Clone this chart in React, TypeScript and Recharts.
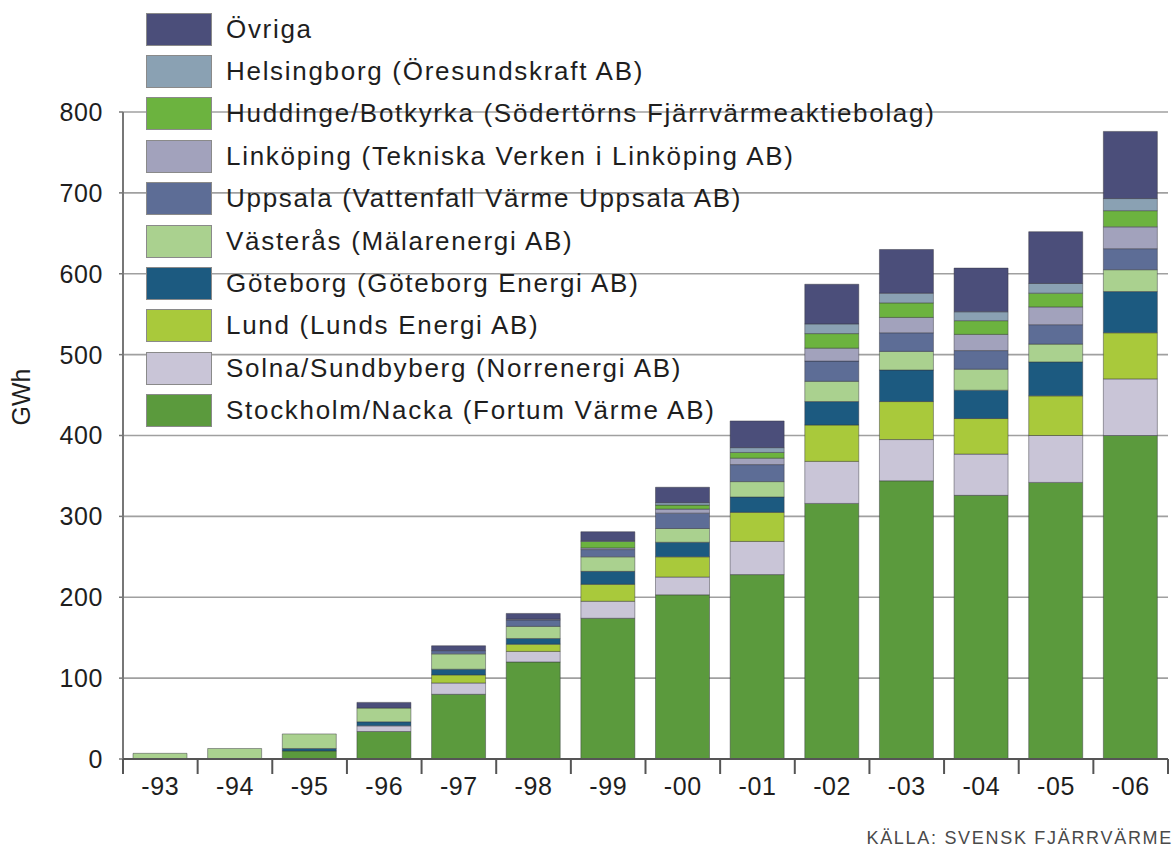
import React from 'react';
import { BarChart, Bar, XAxis, YAxis, CartesianGrid } from 'recharts';

const CHART_W = 1176;
const CHART_H = 848;
const PLOT_LEFT = 123;
const PLOT_RIGHT = 8;

const years = ['-93', '-94', '-95', '-96', '-97', '-98', '-99', '-00', '-01', '-02', '-03', '-04', '-05', '-06'];
const yTicks = [0, 100, 200, 300, 400, 500, 600, 700, 800];

// GWh per producer
const stockholm = [0, 0, 10, 34, 80, 120, 174, 203, 228, 316, 344, 326, 342, 400];
const solna = [0, 0, 0, 7, 14, 13, 21, 22, 41, 52, 51, 51, 58, 70];
const lund = [0, 0, 0, 0, 10, 9, 21, 25, 36, 45, 47, 44, 49, 57];
const goteborg = [0, 0, 3, 5, 7, 7, 16, 18, 19, 29, 39, 35, 42, 51];
const vasteras = [7, 13, 18, 17, 19, 15, 18, 17, 19, 25, 23, 26, 22, 27];
const uppsala = [0, 0, 0, 0, 4, 8, 9, 19, 21, 25, 23, 23, 24, 26];
const linkoping = [0, 0, 0, 0, 0, 1, 2, 5, 8, 16, 19, 20, 22, 27];
const huddinge = [0, 0, 0, 0, 0, 0, 8, 5, 7, 18, 18, 17, 17, 20];
const helsingborg = [0, 0, 0, 0, 0, 0, 1, 3, 6, 12, 12, 11, 12, 15];
const ovriga = [0, 0, 0, 7, 6, 7, 11, 19, 33, 49, 54, 54, 64, 83];

// bottom of the stack first
const series = [
    { key: 'stockholm', name: 'Stockholm/Nacka (Fortum Värme AB)', color: '#5b9a3d', values: stockholm },
    { key: 'solna', name: 'Solna/Sundbyberg (Norrenergi AB)', color: '#c9c5d7', values: solna },
    { key: 'lund', name: 'Lund (Lunds Energi AB)', color: '#a9c93b', values: lund },
    { key: 'goteborg', name: 'Göteborg (Göteborg Energi AB)', color: '#1c5a80', values: goteborg },
    { key: 'vasteras', name: 'Västerås (Mälarenergi AB)', color: '#aad18f', values: vasteras },
    { key: 'uppsala', name: 'Uppsala (Vattenfall Värme Uppsala AB)', color: '#5d6d96', values: uppsala },
    { key: 'linkoping', name: 'Linköping (Tekniska Verken i Linköping AB)', color: '#a2a2bc', values: linkoping },
    { key: 'huddinge', name: 'Huddinge/Botkyrka (Södertörns Fjärrvärmeaktiebolag)', color: '#6cb33f', values: huddinge },
    { key: 'helsingborg', name: 'Helsingborg (Öresundskraft AB)', color: '#8aa1b3', values: helsingborg },
    { key: 'ovriga', name: 'Övriga', color: '#4b4e7a', values: ovriga },
];

const data = years.map((year, i) => {
    const row: Record<string, string | number> = { year };
    series.forEach((s) => {
        row[s.key] = s.values[i];
    });
    return row;
});

const HALF_BAND = (CHART_W - PLOT_LEFT - PLOT_RIGHT) / years.length / 2;

const YearTick = (props: any) => {
    const { x, y, payload, index } = props;
    return (
        <g>
            <line x1={x - HALF_BAND} x2={x - HALF_BAND} y1={y} y2={y + 15} stroke="#555" strokeWidth={2} />
            {index === years.length - 1 && (
                <line x1={x + HALF_BAND} x2={x + HALF_BAND} y1={y} y2={y + 15} stroke="#555" strokeWidth={2} />
            )}
            <text x={x} y={y + 36} textAnchor="middle" fontSize={25} fill="#1e1e1e" letterSpacing={0.6}>
                {payload.value}
            </text>
        </g>
    );
};

const Legend: React.FC = () => (
    <div style={{ position: 'absolute', left: 146, top: 13 }}>
        {[...series].reverse().map((s) => (
            <div key={s.key} style={{ display: 'flex', alignItems: 'center', height: 42.4 }}>
                <div
                    style={{
                        width: 64,
                        height: 31,
                        background: s.color,
                        border: '1px solid #8a8a8a',
                        marginBottom: 10,
                    }}
                />
                <span
                    style={{
                        marginLeft: 14,
                        marginBottom: 10,
                        fontSize: 26,
                        letterSpacing: 1.7,
                        color: '#1e1e1e',
                        whiteSpace: 'nowrap',
                    }}
                >
                    {s.name}
                </span>
            </div>
        ))}
    </div>
);

export default function App() {
    return (
        <div
            style={{
                position: 'relative',
                width: CHART_W,
                height: CHART_H,
                background: '#fff',
                fontFamily: '"Liberation Sans", Arial, sans-serif',
            }}
        >
            <style>{'body{margin:0}'}</style>
            <BarChart
                width={CHART_W}
                height={CHART_H}
                data={data}
                margin={{ top: 112, right: PLOT_RIGHT, left: 0, bottom: 0 }}
                barSize={54}
            >
                <CartesianGrid horizontal vertical={false} stroke="#a0a0a0" strokeWidth={1.6} />
                <YAxis
                    width={PLOT_LEFT}
                    domain={[0, 800]}
                    ticks={yTicks}
                    interval={0}
                    axisLine={{ stroke: '#777', strokeWidth: 2 }}
                    tickLine={{ stroke: '#777', strokeWidth: 1.5 }}
                    tickSize={4}
                    tickMargin={16}
                    tick={{ fontSize: 25, fill: '#1e1e1e', letterSpacing: 0.6 }}
                    label={{
                        content: () => (
                            <text
                                x={30}
                                y={397}
                                transform="rotate(-90 30 397)"
                                textAnchor="middle"
                                fontSize={25}
                                fill="#1e1e1e"
                            >
                                GWh
                            </text>
                        ),
                    }}
                />
                <XAxis
                    dataKey="year"
                    height={CHART_H - 759}
                    interval={0}
                    axisLine={{ stroke: '#555', strokeWidth: 2 }}
                    tickLine={false}
                    tickSize={0}
                    tickMargin={0}
                    tick={<YearTick />}
                />
                {series.map((s) => (
                    <Bar
                        key={s.key}
                        dataKey={s.key}
                        name={s.name}
                        stackId="gwh"
                        fill={s.color}
                        stroke="rgba(50,50,60,0.45)"
                        strokeWidth={1}
                        isAnimationActive={false}
                    />
                ))}
            </BarChart>
            <Legend />
            <div
                style={{
                    position: 'absolute',
                    right: 3,
                    top: 828,
                    fontSize: 18,
                    letterSpacing: 1.7,
                    color: '#4a4a4a',
                }}
            >
                KÄLLA: SVENSK FJÄRRVÄRME
            </div>
        </div>
    );
}
